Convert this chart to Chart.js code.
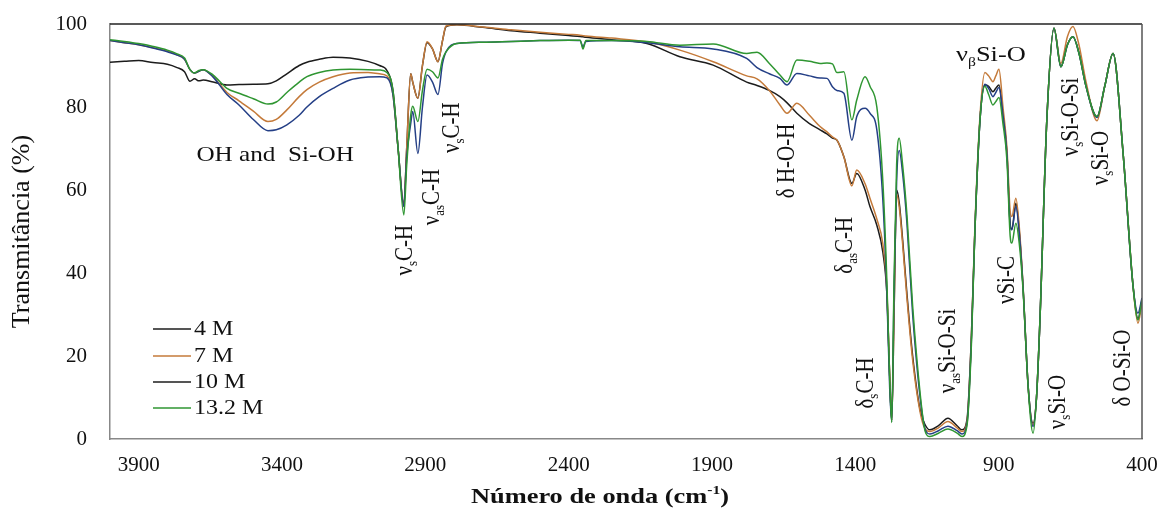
<!DOCTYPE html>
<html lang="pt-br">
<head>
<meta charset="UTF-8">
<title>FTIR</title>
<script src="https://cdn.jsdelivr.net/npm/chart.js"></script>
<style>
  body { margin: 0; background: #fff; }
</style>
</head>
<body>
<canvas id="grafico" width="1165" height="513"></canvas>
<script>
// numero de onda (cm-1), eixo invertido
var numeroOnda = [4000, 3950, 3900, 3850, 3800, 3766, 3740, 3721, 3705, 3690,
    3675, 3640, 3592, 3550, 3500, 3449, 3420, 3383, 3340, 3313,
    3270, 3222, 3163, 3100, 3060, 3034, 3013, 2995, 2975, 2965,
    2951, 2944, 2926, 2910, 2894, 2875, 2856, 2840, 2828, 2790,
    2700, 2600, 2500, 2400, 2360, 2350, 2340, 2250, 2127, 2012,
    1896, 1779, 1743, 1700, 1663, 1638, 1604, 1560, 1523, 1499,
    1480, 1464, 1440, 1412, 1395, 1366, 1349, 1325, 1304, 1290,
    1280, 1273, 1265, 1256, 1247, 1235, 1220, 1200, 1174, 1157,
    1140, 1110, 1077, 1045, 1028, 1010, 995, 983, 965, 948,
    935, 920, 910, 899, 885, 871, 860, 854, 840, 828,
    815, 797, 780, 768, 756, 732, 707, 683, 660, 641,
    620, 595, 557, 530, 501, 466, 431, 414, 400];

var trans4M = [90.8, 91.0, 91.2, 90.7, 90.3, 89.5, 88.5, 86.2, 86.8, 86.3,
    86.5, 86.0, 85.3, 85.4, 85.5, 85.6, 86.3, 88.0, 90.0, 90.8,
    91.5, 92.0, 91.8, 91.0, 90.0, 88.8, 84.0, 70.0, 56.5, 70.0,
    88.0, 86.0, 82.1, 90.0, 95.5, 94.0, 90.9, 96.0, 99.3, 99.8,
    99.2, 98.4, 97.8, 97.2, 97.0, 96.9, 96.8, 96.2, 95.3, 92.1,
    90.1, 86.0, 85.2, 84.0, 82.5, 81.0, 78.5, 76.0, 74.5, 73.5,
    72.5, 72.0, 68.0, 61.6, 64.0, 60.0, 56.0, 51.5, 45.0, 35.0,
    15.0, 4.5, 30.0, 60.0, 57.0, 48.0, 35.0, 20.0, 7.0, 3.5,
    2.2, 3.2, 5.0, 3.2, 2.2, 5.0, 25.0, 50.0, 77.0, 85.3,
    85.0, 83.7, 84.5, 85.3, 78.0, 68.8, 52.0, 50.5, 56.8, 50.0,
    36.7, 12.6, 3.8, 10.0, 28.7, 76.9, 99.0, 89.7, 95.0, 96.9,
    93.0, 84.9, 77.7, 85.0, 92.9, 68.9, 36.7, 29.0, 33.5];

var trans7M = [96.0, 95.5, 95.0, 94.3, 93.5, 92.6, 91.5, 89.0, 88.2, 88.6,
    89.0, 87.3, 83.5, 81.5, 79.0, 76.5, 77.0, 79.3, 82.5, 84.2,
    86.0, 87.3, 88.2, 88.3, 88.0, 87.5, 83.0, 70.0, 56.0, 70.0,
    88.0, 86.0, 82.1, 90.0, 95.7, 94.0, 90.9, 96.0, 99.5, 99.8,
    99.3, 98.6, 98.0, 97.5, 97.3, 97.2, 97.1, 96.6, 95.7, 93.7,
    90.9, 87.5, 86.8, 84.0, 80.5, 78.5, 80.9, 78.0, 75.3, 74.0,
    72.8, 72.0, 68.0, 61.0, 64.8, 61.5, 58.0, 53.0, 47.0, 36.0,
    15.0, 4.5, 30.0, 59.0, 56.0, 47.0, 34.0, 19.0, 6.5, 2.5,
    1.8, 2.7, 4.2, 2.7, 1.8, 4.5, 25.0, 51.0, 78.0, 88.3,
    87.5, 86.1, 87.5, 89.1, 80.0, 70.0, 55.0, 53.6, 58.0, 51.0,
    37.0, 12.5, 3.4, 10.0, 28.7, 76.9, 99.0, 90.5, 97.0, 99.4,
    95.0, 86.0, 76.7, 85.0, 92.9, 68.9, 36.7, 27.9, 33.0];

var trans10M = [96.0, 95.5, 95.0, 94.2, 93.3, 92.5, 91.5, 89.0, 88.2, 88.6,
    89.0, 87.2, 83.0, 80.5, 77.0, 74.3, 74.5, 75.7, 78.0, 80.0,
    82.5, 84.5, 86.5, 87.2, 87.3, 87.0, 83.0, 70.0, 56.0, 68.0,
    76.0, 78.9, 68.8, 80.0, 87.7, 86.0, 83.0, 90.5, 93.3, 95.3,
    95.6, 95.8, 96.0, 96.1, 96.0, 94.5, 95.8, 96.0, 95.5, 94.5,
    94.0, 91.7, 89.5, 88.0, 86.9, 85.3, 88.1, 87.5, 87.0, 86.9,
    84.9, 84.0, 83.3, 72.0, 77.7, 79.7, 78.5, 74.5, 57.6, 35.0,
    12.0, 4.2, 35.0, 62.0, 69.5, 64.0, 52.0, 30.0, 10.0, 2.5,
    1.2, 2.0, 3.1, 2.0, 1.2, 4.0, 24.0, 50.0, 77.0, 85.5,
    84.5, 82.5, 83.5, 84.7, 78.0, 68.5, 51.5, 50.4, 56.0, 49.5,
    36.5, 12.5, 3.0, 10.0, 28.7, 76.9, 99.0, 89.7, 95.0, 96.9,
    93.0, 84.9, 77.5, 85.0, 92.9, 68.9, 36.7, 30.3, 34.0];

var trans13M = [96.2, 95.8, 95.3, 94.6, 93.7, 92.8, 91.8, 89.0, 88.2, 88.8,
    89.0, 87.7, 84.5, 83.3, 82.0, 80.7, 81.2, 83.5, 86.0, 87.3,
    88.3, 88.9, 89.1, 89.0, 88.9, 88.3, 84.0, 70.0, 54.0, 66.0,
    78.0, 80.2, 76.5, 84.0, 89.1, 88.5, 87.0, 91.5, 93.3, 95.3,
    95.6, 95.8, 96.0, 96.1, 96.1, 94.0, 96.0, 96.0, 95.8, 94.9,
    95.2, 92.9, 93.2, 90.5, 87.7, 86.1, 91.3, 91.0, 90.5, 90.6,
    90.4, 88.3, 88.5, 76.9, 81.7, 87.3, 85.0, 80.0, 62.0, 38.0,
    14.0, 4.0, 38.0, 66.0, 72.5, 66.0, 54.0, 32.0, 11.0, 2.0,
    0.6, 1.4, 2.4, 1.4, 0.6, 3.5, 23.0, 50.0, 77.0, 85.0,
    83.0, 80.5, 81.3, 82.3, 76.0, 67.0, 49.0, 47.2, 52.0, 47.0,
    36.0, 12.3, 1.4, 10.0, 28.7, 76.9, 99.0, 89.7, 95.0, 96.9,
    93.0, 84.9, 77.7, 85.0, 92.9, 68.9, 36.7, 28.7, 33.5];

var nomesSeries = ['4 M', '7 M', '10 M', '13.2 M'];
var coresSeries = ['#1c1c1c', '#c47a3a', '#243f86', '#2f9632'];
var ticksX = [3900, 3400, 2900, 2400, 1900, 1400, 900, 400];

// rotulos das bandas
var rotulos = [
    { x: 3424, y: 68.4, rot: 0, partes: [['OH and  Si-OH']] },
    { x: 2971, y: 45.5, rot: -90, partes: [['ν'], ['s', 1], ['C-H']] },
    { x: 2877, y: 58.3, rot: -90, partes: [['ν'], ['as', 1], ['C-H']] },
    { x: 2807, y: 75.0, rot: -90, partes: [['ν'], ['s', 1], ['C-H']] },
    { x: 1638, y: 67.0, rot: -90, partes: [['δ H-O-H']] },
    { x: 1436, y: 46.7, rot: -90, partes: [['δ'], ['as', 1], ['C-H']] },
    { x: 1363, y: 13.5, rot: -90, partes: [['δ'], ['s', 1], ['C-H']] },
    { x: 1077, y: 21.2, rot: -90, partes: [['ν'], ['as', 1], ['Si-O-Si']] },
    { x: 927, y: 92.5, rot: 0, tam: 22, partes: [['ν'], ['β', 1], ['Si-O']] },
    { x: 871, y: 38.3, rot: -90, partes: [['νSi-C']] },
    { x: 693, y: 8.9, rot: -90, partes: [['ν'], ['s', 1], ['Si-O']] },
    { x: 648, y: 77.6, rot: -90, partes: [['ν'], ['s', 1], ['Si-O-Si']] },
    { x: 543, y: 67.7, rot: -90, partes: [['ν'], ['s', 1], ['Si-O']] },
    { x: 466, y: 17.1, rot: -90, partes: [['δ O-Si-O']] }
];

var FONTE = '"Liberation Serif", "Times New Roman", serif';
var ESTICA = 1.2;

function fonte(tam, negrito) {
    return (negrito ? 'bold ' : '') + tam + 'px ' + FONTE;
}

function desenharTexto(ctx, cx, cy, rot, partes, tam, negrito, alinhar) {
    ctx.save();
    ctx.translate(cx, cy);
    ctx.scale(ESTICA, 1);
    ctx.rotate(rot * Math.PI / 180);
    var total = 0;
    partes.forEach(function (p) {
        ctx.font = fonte(p[1] ? Math.round(tam * 0.6) : tam, negrito);
        total += ctx.measureText(p[0]).width;
    });
    var x = alinhar == 'left' ? 0 : -total / 2;
    ctx.textBaseline = 'middle';
    ctx.fillStyle = '#111';
    partes.forEach(function (p) {
        ctx.font = fonte(p[1] ? Math.round(tam * 0.6) : tam, negrito);
        var dy = 0;
        if (p[1] == 1) dy = tam * 0.32;
        if (p[1] == 2) dy = -tam * 0.3;
        ctx.fillText(p[0], x, dy);
        x += ctx.measureText(p[0]).width;
    });
    ctx.restore();
}

var pluginExtras = {
    id: 'extras',
    afterDraw: function (chart) {
        var ctx = chart.ctx;
        var a = chart.chartArea;
        var sx = chart.scales.x;
        var sy = chart.scales.y;

        // moldura de cima e da direita
        ctx.save();
        ctx.lineWidth = 1.5;
        ctx.strokeStyle = '#222';
        ctx.beginPath();
        ctx.moveTo(a.left, a.top);
        ctx.lineTo(a.right, a.top);
        ctx.stroke();
        ctx.strokeStyle = '#555';
        ctx.beginPath();
        ctx.moveTo(a.right, a.top);
        ctx.lineTo(a.right, a.bottom);
        ctx.stroke();
        ctx.restore();

        // rotulos
        rotulos.forEach(function (r) {
            desenharTexto(ctx, sx.getPixelForValue(r.x), sy.getPixelForValue(r.y),
                r.rot, r.partes, r.tam || 21);
        });

        // legenda
        var linhasY = [110, 83, 57, 31];
        for (var i = 0; i < nomesSeries.length; i++) {
            var yy = a.bottom - linhasY[i];
            ctx.save();
            ctx.strokeStyle = i == 2 ? '#1c1c1c' : coresSeries[i];
            ctx.lineWidth = 1.5;
            ctx.beginPath();
            ctx.moveTo(a.left + 43, yy);
            ctx.lineTo(a.left + 81, yy);
            ctx.stroke();
            ctx.restore();
            desenharTexto(ctx, a.left + 84, yy + 1, 0, [[nomesSeries[i]]], 20, false, 'left');
        }

        // titulo do eixo x
        desenharTexto(ctx, 600, 497, 0,
            [['Número de onda (cm'], ['-1', 2], [')']], 22, true);
    }
};

var datasets = [trans4M, trans7M, trans10M, trans13M].map(function (serie, i) {
    return {
        label: nomesSeries[i],
        data: serie.map(function (v, j) { return { x: numeroOnda[j], y: v }; }),
        borderColor: coresSeries[i],
        borderWidth: 1.5,
        pointRadius: 0,
        fill: false,
        cubicInterpolationMode: 'monotone',
        order: 4 - i
    };
});

new Chart(document.getElementById('grafico'), {
    type: 'line',
    data: { datasets: datasets },
    options: {
        responsive: false,
        animation: false,
        devicePixelRatio: 1,
        layout: { padding: { top: 24, right: 23, left: 0, bottom: 0 } },
        plugins: {
            legend: { display: false },
            tooltip: { enabled: false }
        },
        scales: {
            x: {
                type: 'linear',
                reverse: true,
                min: 400,
                max: 4000,
                grid: { display: false, drawTicks: false },
                border: { display: true, color: '#888', width: 1.5 },
                afterBuildTicks: function (scale) {
                    scale.ticks = ticksX.map(function (v) { return { value: v }; });
                },
                afterFit: function (scale) {
                    scale.height = 74;
                    scale.paddingLeft = 0;
                    scale.paddingRight = 0;
                },
                ticks: {
                    color: '#111',
                    padding: 14,
                    maxRotation: 0,
                    autoSkip: false,
                    font: { family: FONTE, size: 21 },
                    callback: function (v) { return String(v); }
                }
            },
            y: {
                min: 0,
                max: 100,
                grid: { display: false, drawTicks: false },
                border: { display: true, color: '#888', width: 1.5 },
                afterFit: function (scale) {
                    scale.width = 110;
                    scale.paddingTop = 0;
                    scale.paddingBottom = 0;
                },
                ticks: {
                    stepSize: 20,
                    color: '#111',
                    padding: 23,
                    font: { family: FONTE, size: 21 }
                },
                title: {
                    display: true,
                    text: 'Transmitância (%)',
                    color: '#111',
                    padding: { top: 7, bottom: 7 },
                    font: { family: FONTE, size: 26 }
                }
            }
        }
    },
    plugins: [pluginExtras]
});
</script>
</body>
</html>
